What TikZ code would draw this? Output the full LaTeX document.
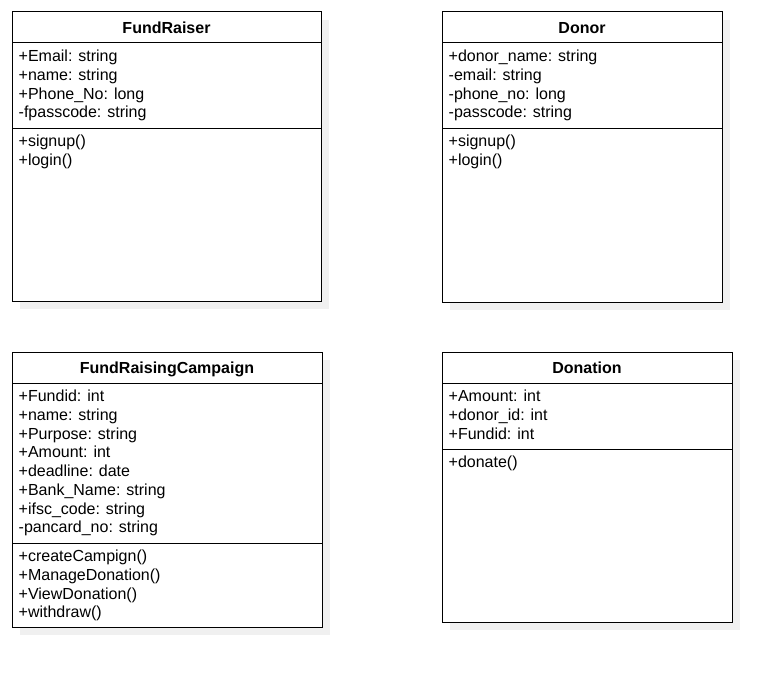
\documentclass[tikz,border=0pt]{standalone}
\usepackage{fontspec}
\setmainfont{Liberation Sans}
\tikzset{
  classbox/.style={draw=black, line width=1pt, fill=white},
  shadowbox/.style={fill=black!6, draw=none},
  sepline/.style={draw=black, line width=1pt},
  attr/.style={anchor=base west, inner sep=0pt, font=\fontsize{16}{18.7}\selectfont},
  ctitle/.style={anchor=base, inner sep=0pt, font=\fontsize{16}{18.7}\selectfont\bfseries}
}
% #1 id, #2 x1, #3 y1, #4 x2, #5 y2, #6 separator y, #7 title, #8 attributes, #9 methods
\newcommand\umlclass[9]{%
  \fill[shadowbox] (#2+8,#3+8) rectangle (#4+8,#5+8);
  \draw[classbox] (#2,#3) rectangle (#4,#5);
  \draw[sepline] (#2,#3+31) -- (#4,#3+31);
  \draw[sepline] (#2,#6) -- (#4,#6);
  \node[ctitle] (#1-title) at ({(#2+#4)/2},#3+21.8) {#7};
  \foreach \t [count=\i] in {#8} \node[attr] (#1-a\i) at (#2+6.5,{#3+49.8+18.7*(\i-1)}) {\t};
  \foreach \t [count=\i] in {#9} \node[attr] (#1-m\i) at (#2+6.5,{#6+18.8+18.7*(\i-1)}) {\t};
}
\begin{document}
\begin{tikzpicture}[x=1pt,y=-1pt]
\fill[white] (0,0) rectangle (782,677);
\useasboundingbox (0,0) rectangle (782,677);
\umlclass{fr}{12}{12}{321}{301}{128}{FundRaiser}
  {+Email: string,+name: string,+Phone\_No: long,-fpasscode: string}
  {+signup(),+login()}
\umlclass{dn}{442}{12}{722}{302}{128}{Donor}
  {+donor\_name: string,-email: string,-phone\_no: long,-passcode: string}
  {+signup(),+login()}
\umlclass{frc}{12}{352}{322}{627}{543}{FundRaisingCampaign}
  {+Fundid: int,+name: string,+Purpose: string,+Amount: int,+deadline: date,+Bank\_Name: string,+ifsc\_code: string,-pancard\_no: string}
  {+createCampign(),+ManageDonation(),+ViewDonation(),+withdraw()}
\umlclass{don}{442}{352}{732}{622}{449}{Donation}
  {+Amount: int,+donor\_id: int,+Fundid: int}
  {+donate()}
\end{tikzpicture}
\end{document}
